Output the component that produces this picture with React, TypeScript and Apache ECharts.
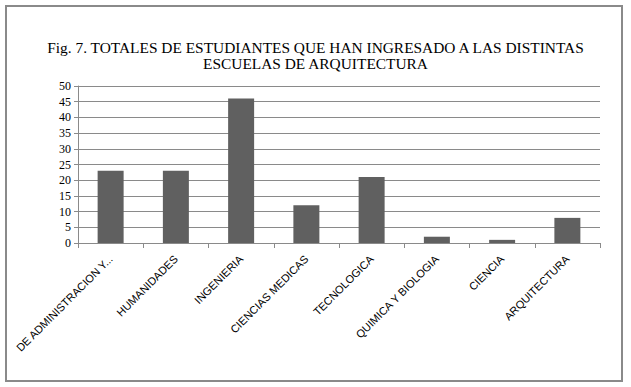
import React, { useEffect, useRef } from "react";
import * as echarts from "echarts";

const titleLines = [
  "Fig. 7. TOTALES DE ESTUDIANTES QUE HAN INGRESADO A LAS DISTINTAS",
  "ESCUELAS DE ARQUITECTURA",
];
const categories = [
  "DE ADMINISTRACION Y...",
  "HUMANIDADES",
  "INGENIERIA",
  "CIENCIAS MEDICAS",
  "TECNOLOGICA",
  "QUIMICA Y BIOLOGIA",
  "CIENCIA",
  "ARQUITECTURA",
];
const totals = [23, 23, 46, 12, 21, 2, 1, 8];
const yMin = 0;
const yMax = 50;
const yStep = 5;

export default function App() {
  const ref = useRef<HTMLDivElement>(null);
  useEffect(() => {
    if (!ref.current) return;
    const chart = echarts.init(ref.current, null, { renderer: "svg" });
    chart.setOption({
      animation: false,
      backgroundColor: "#ffffff",
      title: {
        text: titleLines.join("\n"),
        left: "center",
        top: 34,
        textStyle: {
          fontFamily: "Liberation Serif",
          fontSize: 15.4,
          fontWeight: "normal",
          color: "#000",
          lineHeight: 16,
        },
      },
      graphic: [
        {
          type: "rect",
          shape: { x: 6, y: 6, width: 616, height: 375 },
          style: { fill: "none", stroke: "#8a8a8a", lineWidth: 2 },
          silent: true,
        },
      ],
      grid: { left: 78, right: 31, top: 86, bottom: 144 },
      xAxis: {
        type: "category",
        data: categories,
        boundaryGap: true,
        axisLine: { show: true, lineStyle: { color: "#8a8a8a", width: 1 } },
        axisTick: { show: true, length: 5, lineStyle: { color: "#8a8a8a" } },
        axisLabel: {
          rotate: 45,
          interval: 0,
          margin: 14,
          fontFamily: "Liberation Sans",
          fontSize: 11,
          color: "#000",
        },
      },
      yAxis: {
        type: "value",
        min: yMin,
        max: yMax,
        interval: yStep,
        axisLine: { show: true, lineStyle: { color: "#8a8a8a", width: 1 } },
        axisTick: { show: true, length: 4, lineStyle: { color: "#8a8a8a" } },
        axisLabel: {
          margin: 7,
          fontFamily: "Liberation Serif",
          fontSize: 12,
          color: "#000",
        },
        splitLine: { show: true, lineStyle: { color: "#8a8a8a", width: 1 } },
      },
      series: [
        {
          type: "bar",
          data: totals,
          barWidth: 26,
          itemStyle: { color: "#606060" },
        },
      ],
    });
    return () => chart.dispose();
  }, []);
  return (
    <div
      ref={ref}
      style={{ position: "fixed", left: 0, top: 0, width: 631, height: 387 }}
    />
  );
}
